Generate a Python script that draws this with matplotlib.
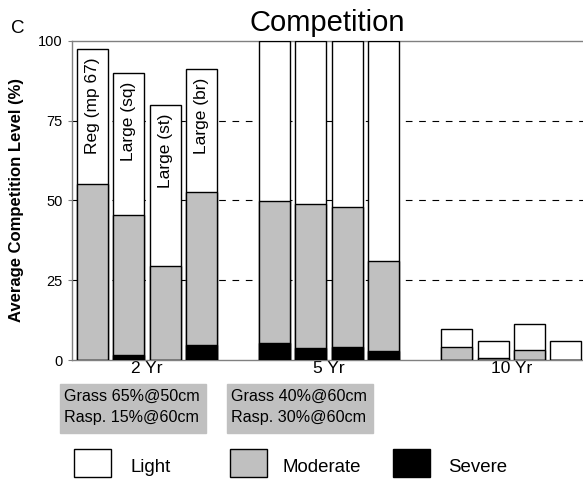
import numpy as np
import matplotlib.pyplot as plt
from matplotlib.patches import Rectangle

plt.rcParams['font.family'] = ['Liberation Sans', 'DejaVu Sans']

# valores (nível médio de competição, %)
grupos = ['2 Yr', '5 Yr', '10 Yr']
tratamentos = ['Reg (mp 67)', 'Large (sq)', 'Large (st)', 'Large (br)']

total = [97.4, 89.9, 80.0, 91.1,
         100, 100, 100, 100,
         9.7, 5.9, 11.2, 5.9]
moderado = [55.3, 45.4, 29.5, 52.6,
            49.8, 48.9, 48.1, 31.1,
            4.0, 0.7, 3.0, 0.0]
severo = [0.0, 1.6, 0.0, 4.7,
          5.2, 3.8, 4.2, 2.9,
          0.0, 0.0, 0.0, 0.0]

caixas = ['Grass 65%@50cm\nRasp. 15%@60cm',
          'Grass 40%@60cm\nRasp. 30%@60cm']

x = np.array([5 * g + i for g in range(3) for i in range(4)])
total = np.array(total)
moderado = np.array(moderado)
severo = np.array(severo)

fig = plt.figure(figsize=(5.83, 4.80), dpi=100)
ax = fig.add_axes([0.1235, 0.25, 0.8765, 0.6646])

w = 0.85
ax.bar(x, total, w, color='white', edgecolor='black', linewidth=1, zorder=3)
ax.bar(x, moderado, w, color='#c0c0c0', edgecolor='black', linewidth=1, zorder=3)
ax.bar(x, severo, w, color='black', edgecolor='black', linewidth=1, zorder=3)

# rótulos dentro das barras de 2 anos
for i, t in enumerate(tratamentos):
    ax.annotate(t, (x[i], total[i]), xytext=(0, -6), textcoords='offset points',
                rotation=90, ha='center', va='top', fontsize=12.5, zorder=4)

ax.set_xlim(-0.56, 13.47)
ax.set_ylim(0, 100)
ax.set_yticks([0, 25, 50, 75, 100])
ax.tick_params(axis='y', length=3, labelsize=10.5, color='#808080')
ax.set_xticks([1.5, 6.5, 11.5])
ax.set_xticklabels(grupos, fontsize=12.5)
ax.tick_params(axis='x', length=0, pad=1)

for yv in [25, 50, 75]:
    ax.axhline(yv, color='black', linestyle=(0, (6, 6)), linewidth=0.8, zorder=1)
ax.axhline(100, color='#808080', linewidth=1, zorder=1, clip_on=False)

for s in ['top', 'right']:
    ax.spines[s].set_visible(False)
for s in ['left', 'bottom']:
    ax.spines[s].set_color('#808080')
    ax.spines[s].set_linewidth(1)

ax.set_ylabel('Average Competition Level (%)', fontsize=12, fontweight='bold', labelpad=10)
ax.set_title('Competition', fontsize=21, pad=7)
fig.text(0.019, 0.931, 'C', fontsize=13.5, va='baseline')

# caixas de texto cinzas
for j, txt in enumerate(caixas):
    x0 = [60, 227][j]
    fig.patches.append(Rectangle((x0 / 583, 1 - 433 / 480), 146 / 583, 49 / 480,
                                 transform=fig.transFigure, color='#c0c0c0', zorder=0))
    fig.text((x0 + 4) / 583, 1 - 407 / 480, txt, fontsize=11.6, va='center',
             linespacing=1.55)

# legenda manual
itens = [('Light', 'white', 74, 130), ('Moderate', '#c0c0c0', 230, 283),
         ('Severe', 'black', 393, 448)]
for nome, cor, xq, xt in itens:
    fig.patches.append(Rectangle((xq / 583, 1 - 477 / 480), 37 / 583, 28 / 480,
                                 transform=fig.transFigure, facecolor=cor,
                                 edgecolor='black', linewidth=1))
    fig.text(xt / 583, 1 - 467 / 480, nome, fontsize=13.4, va='center')

fig.savefig('out.png', dpi=100)
